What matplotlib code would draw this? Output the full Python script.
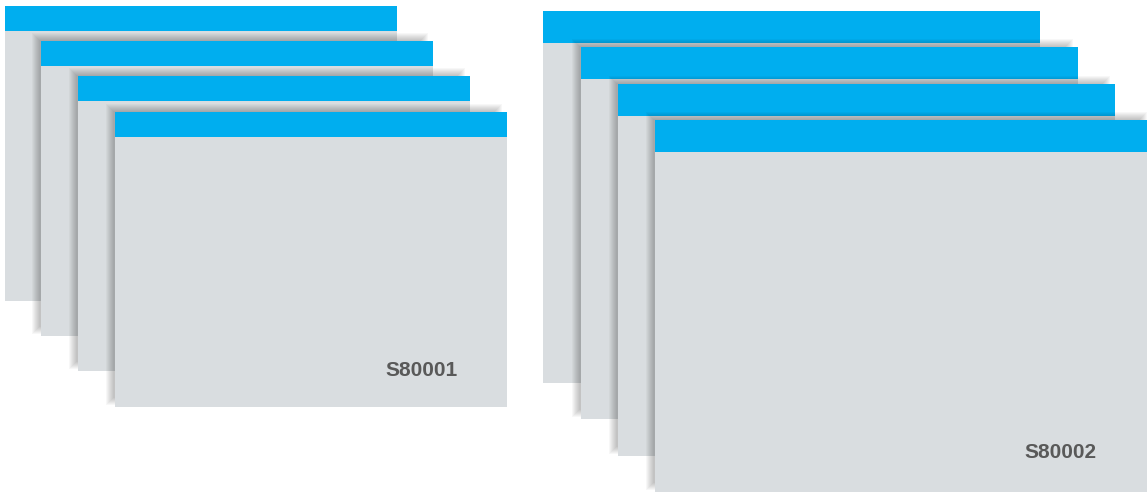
import matplotlib.pyplot as plt
from matplotlib.patches import Rectangle

# card boxes in pixels: left, top, width, height, header height
left_x = [5, 41, 78, 115]
left_y = [6, 41, 76, 112]
left_w = 392
left_h = 295
left_head = 25

right_x = [543, 581, 618, 655]
right_y = [11, 47, 84, 120]
right_w = 497
right_h = 372
right_head = 32

labels = ["S80001", "S80002"]

blue = "#00AEEF"
grey = "#D9DDE0"

fig = plt.figure(figsize=(11.47, 4.92), dpi=100)
ax = fig.add_axes([0, 0, 1, 1])
ax.set_xlim(0, 1147)
ax.set_ylim(492, 0)
ax.axis("off")


def card(x, y, w, h, hh, z, shadow=True):
    # soft shadow up and to the left, layers widening outward
    if shadow:
        for i in range(8, 0, -1):
            ax.add_patch(Rectangle((x - 1 - i, y - i), w - 12 + 2 * i, h - 10 + 2 * i,
                                   color="black", alpha=0.032, lw=0, zorder=z))
    ax.add_patch(Rectangle((x, y), w, h, color=grey, lw=0, zorder=z + 0.1))
    ax.add_patch(Rectangle((x, y), w, hh, color=blue, lw=0, zorder=z + 0.2))


for i in range(4):
    card(left_x[i], left_y[i], left_w, left_h, left_head, i + 1, i > 0)
    card(right_x[i], right_y[i], right_w, right_h, right_head, i + 1, i > 0)

ax.text(422, 371, labels[0], ha="center", va="center", fontsize=15,
        fontweight="bold", color="#595959", family="Liberation Sans", zorder=10)
ax.text(1060, 452, labels[1], ha="center", va="center", fontsize=15,
        fontweight="bold", color="#595959", family="Liberation Sans", zorder=10)

fig.savefig("out.png", dpi=100)
